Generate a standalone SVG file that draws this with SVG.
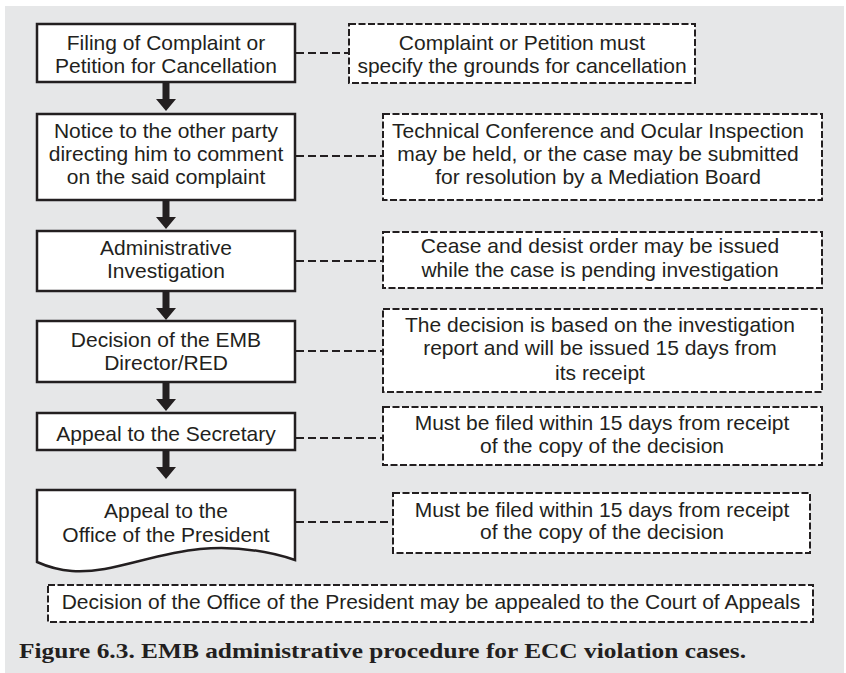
<svg xmlns="http://www.w3.org/2000/svg" width="846" height="673" viewBox="0 0 846 673">
<style>
.bg{fill:#e6e7e8}
.box{fill:#ffffff;stroke:#231f20;stroke-width:2.5}
.note{fill:#ffffff;stroke:#231f20;stroke-width:2;stroke-dasharray:7 2.5}
.conn{fill:none;stroke:#231f20;stroke-width:2;stroke-dasharray:8 4}
.t{font-family:"Liberation Sans",Arial,sans-serif;font-size:21px;fill:#231f20;text-anchor:middle}
.cap{font-family:"Liberation Serif","Times New Roman",serif;font-size:21px;font-weight:bold;fill:#231f20}
</style>
<defs>
<path id="arr" d="M-3.5,0 H3.5 V17 H10 L0,29 L-10,17 H-3.5 Z" fill="#231f20"/>
</defs>
<rect class="bg" x="5" y="6" width="839" height="667"/>

<g id="connectors">
<line class="conn" x1="296" y1="53" x2="349" y2="53"/>
<line class="conn" x1="296" y1="156" x2="383" y2="156"/>
<line class="conn" x1="296" y1="261" x2="383" y2="261"/>
<line class="conn" x1="296" y1="351" x2="383" y2="351"/>
<line class="conn" x1="296" y1="438" x2="383" y2="438"/>
<line class="conn" x1="296" y1="522" x2="393" y2="522"/>
<use href="#arr" x="166" y="82"/>
<use href="#arr" x="166" y="200"/>
<use href="#arr" x="166" y="291"/>
<use href="#arr" x="166" y="382"/>
<use href="#arr" x="166" y="450"/>
</g>

<g id="n1">
<rect class="box" x="37" y="24" width="258" height="58"/>
<text class="t" x="166" y="50">Filing of Complaint or</text>
<text class="t" x="166" y="73">Petition for Cancellation</text>
</g>
<g id="n2">
<rect class="box" x="37" y="114" width="258" height="86"/>
<text class="t" x="166" y="138">Notice to the other party</text>
<text class="t" x="166" y="161">directing him to comment</text>
<text class="t" x="166" y="184">on the said complaint</text>
</g>
<g id="n3">
<rect class="box" x="37" y="231" width="258" height="60"/>
<text class="t" x="166" y="255">Administrative</text>
<text class="t" x="166" y="278">Investigation</text>
</g>
<g id="n4">
<rect class="box" x="37" y="321" width="258" height="61"/>
<text class="t" x="166" y="347">Decision of the EMB</text>
<text class="t" x="166" y="370">Director/RED</text>
</g>
<g id="n5">
<rect class="box" x="37" y="413" width="258" height="37"/>
<text class="t" x="166" y="441">Appeal to the Secretary</text>
</g>
<g id="n6">
<path class="box" d="M37,490 H295 V560 C265,550 235,546 200,549 C150,554 110,574 72,571 C58,570 46,566 37,562 Z"/>
<text class="t" x="166" y="518">Appeal to the</text>
<text class="t" x="166" y="542">Office of the President</text>
</g>

<g id="r1">
<rect class="note" x="349" y="24" width="346" height="59"/>
<text class="t" x="522" y="50">Complaint or Petition must</text>
<text class="t" x="522" y="73">specify the grounds for cancellation</text>
</g>
<g id="r2">
<rect class="note" x="383" y="114" width="439" height="86"/>
<text class="t" x="598" y="138">Technical Conference and Ocular Inspection</text>
<text class="t" x="598" y="161">may be held, or the case may be submitted</text>
<text class="t" x="598" y="184">for resolution by a Mediation Board</text>
</g>
<g id="r3">
<rect class="note" x="383" y="232" width="439" height="56"/>
<text class="t" x="600" y="253">Cease and desist order may be issued</text>
<text class="t" x="600" y="277">while the case is pending investigation</text>
</g>
<g id="r4">
<rect class="note" x="383" y="309" width="439" height="83"/>
<text class="t" x="600" y="332">The decision is based on the investigation</text>
<text class="t" x="600" y="355">report and will be issued 15 days from</text>
<text class="t" x="600" y="380">its receipt</text>
</g>
<g id="r5">
<rect class="note" x="383" y="407" width="439" height="58"/>
<text class="t" x="602" y="430">Must be filed within 15 days from receipt</text>
<text class="t" x="602" y="453">of the copy of the decision</text>
</g>
<g id="r6">
<rect class="note" x="393" y="493" width="417" height="60"/>
<text class="t" x="602" y="517">Must be filed within 15 days from receipt</text>
<text class="t" x="602" y="539">of the copy of the decision</text>
</g>
<g id="r7">
<rect class="note" x="48" y="585" width="765" height="37"/>
<text class="t" x="431" y="609">Decision of the Office of the President may be appealed to the Court of Appeals</text>
</g>

<text class="cap" x="19" y="658" textLength="727" lengthAdjust="spacingAndGlyphs">Figure 6.3. EMB administrative procedure for ECC violation cases.</text>
</svg>
